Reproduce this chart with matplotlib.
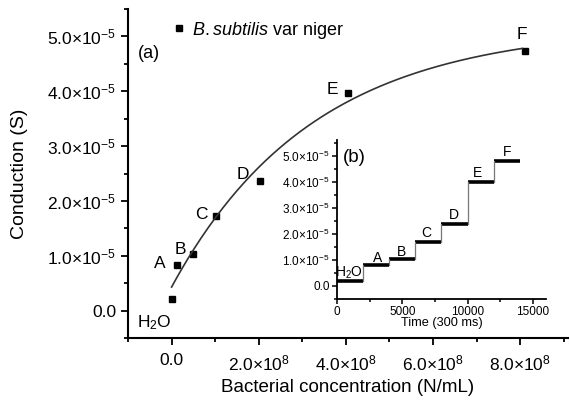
import numpy as np
import matplotlib.pyplot as plt
from matplotlib.ticker import FuncFormatter, MultipleLocator

plt.rcParams['font.family'] = ['Liberation Sans', 'DejaVu Sans']
plt.rcParams['mathtext.fontset'] = 'custom'
plt.rcParams['mathtext.rm'] = 'Liberation Sans'
plt.rcParams['mathtext.it'] = 'Liberation Sans:italic'

# main panel (a): conduction vs concentration
labels = ['H$_2$O', 'A', 'B', 'C', 'D', 'E', 'F']
conc = [0.0, 0.12e8, 0.5e8, 1.02e8, 2.04e8, 4.05e8, 8.11e8]
cond = [0.21e-5, 0.84e-5, 1.03e-5, 1.72e-5, 2.37e-5, 3.97e-5, 4.74e-5]
label_off = [(-17, -24), (-17, 1), (-13, 5), (-15, 2), (-18, 6), (-16, 3), (-3, 16)]

# exponential fit y = y0 + b*(1 - exp(-x/t)), parameters
fit_y0 = 0.43e-5
fit_b = 4.75e-5
fit_t = 3.25e8
fit_xmax = 8.05e8

# inset (b): step trace vs time
step_t0 = [0, 2000, 4000, 6000, 8000, 10000, 12000]
step_t1 = [2000, 4000, 6000, 8000, 10000, 12000, 14000]
step_val = [0.2e-5, 0.82e-5, 1.05e-5, 1.69e-5, 2.39e-5, 3.98e-5, 4.79e-5]
inset_lbl_x = [960, 3130, 4980, 6820, 8950, 10750, 13000]
inset_lbl_y = [0.52e-5, 1.09e-5, 1.32e-5, 2.04e-5, 2.73e-5, 4.35e-5, 5.14e-5]


def sci(v, pos):
    if abs(v) < 1e-30:
        return '0.0'
    e = int(np.floor(np.log10(abs(v)) + 1e-9))
    m = v / 10 ** e
    return '%.1f×10$^{%d}$' % (m, e)


fig = plt.figure(figsize=(5.7, 4.01), dpi=100)
ax = fig.add_axes([0.2246, 0.157, 0.772, 0.8206])

ax.plot(conc, cond, 's', color='black', markersize=4.5, label=r'$\it{B.subtilis}$ var niger')
xf = np.linspace(0, fit_xmax, 200)
ax.plot(xf, fit_y0 + fit_b * (1 - np.exp(-xf / fit_t)), color='#333333', lw=1.2)

for lab, x, y, off in zip(labels, conc, cond, label_off):
    ax.annotate(lab, (x, y), xytext=off, textcoords='offset pixels',
                ha='center', va='center', fontsize=12.5)

ax.text(0.023, 0.85, '(a)', transform=ax.transAxes, fontsize=13)

ax.set_xlim(-1e8, 9.1e8)
ax.set_ylim(-0.5e-5, 5.5e-5)
ax.xaxis.set_major_locator(MultipleLocator(2e8))
ax.xaxis.set_minor_locator(MultipleLocator(1e8))
ax.yaxis.set_major_locator(MultipleLocator(1e-5))
ax.yaxis.set_minor_locator(MultipleLocator(0.5e-5))
ax.xaxis.set_major_formatter(FuncFormatter(sci))
ax.yaxis.set_major_formatter(FuncFormatter(sci))
ax.tick_params(which='both', direction='out', width=1.3, labelsize=12.5)
ax.tick_params(axis='x', which='major', pad=6)
ax.tick_params(which='major', length=5)
ax.tick_params(which='minor', length=3)
for s in ['top', 'right']:
    ax.spines[s].set_visible(False)
for s in ['left', 'bottom']:
    ax.spines[s].set_linewidth(1.5)
ax.set_xlabel('Bacterial concentration (N/mL)', fontsize=13.5)
ax.set_ylabel('Conduction (S)', fontsize=14)
ax.xaxis.set_label_coords(0.5, -0.125)
ax.yaxis.set_label_coords(-0.227, 0.5)

ax.legend(loc='upper left', bbox_to_anchor=(0.08, 1.0), frameon=False, fontsize=13,
          handlelength=0.5, handletextpad=0.5, borderaxespad=0.2)

# inset
ins = fig.add_axes([0.591, 0.2544, 0.367, 0.3966])
for t0, t1, v in zip(step_t0, step_t1, step_val):
    ins.plot([t0, t1], [v, v], color='black', lw=2.6, solid_capstyle='butt')
for i in range(1, len(step_val)):
    ins.plot([step_t0[i], step_t0[i]], [step_val[i - 1], step_val[i]], color='#777777', lw=0.9)
for lab, x, y in zip(labels, inset_lbl_x, inset_lbl_y):
    ins.text(x, y, lab, ha='center', va='center', fontsize=10)
ins.text(0.03, 0.86, '(b)', transform=ins.transAxes, fontsize=13.5)

ins.set_xlim(0, 16000)
ins.set_ylim(-0.5e-5, 5.6e-5)
ins.xaxis.set_major_locator(MultipleLocator(5000))
ins.xaxis.set_minor_locator(MultipleLocator(2500))
ins.yaxis.set_major_locator(MultipleLocator(1e-5))
ins.yaxis.set_minor_locator(MultipleLocator(0.5e-5))
ins.yaxis.set_major_formatter(FuncFormatter(sci))
ins.tick_params(which='both', direction='out', width=1.1, labelsize=8.5, pad=1.5)
ins.tick_params(which='major', length=3.5)
ins.tick_params(which='minor', length=2)
for s in ['top', 'right']:
    ins.spines[s].set_visible(False)
for s in ['left', 'bottom']:
    ins.spines[s].set_linewidth(1.3)
ins.set_xlabel('Time (300 ms)', fontsize=9.2, labelpad=-1)

fig.savefig('out.png', dpi=100)
